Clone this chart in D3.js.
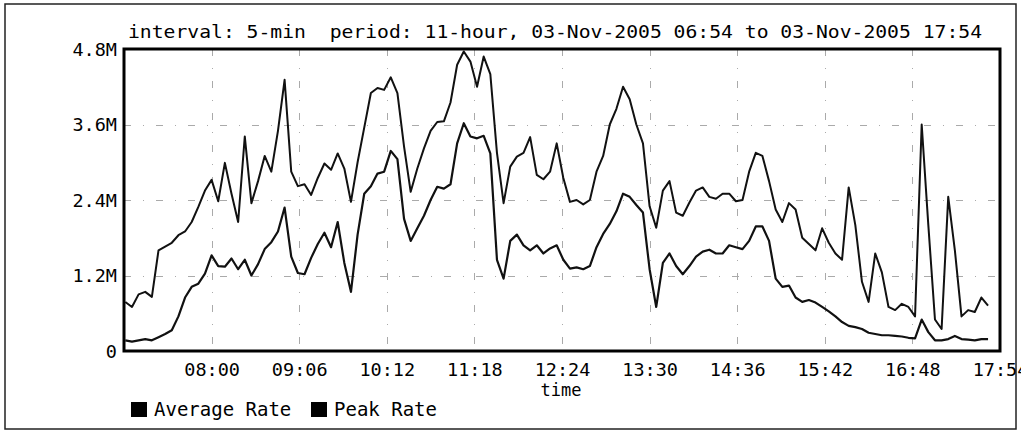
<!DOCTYPE html>
<html>
<head>
<meta charset="utf-8">
<script src="https://cdn.jsdelivr.net/npm/d3@7"></script>
<style>
  body { margin: 0; background: #fff; }
  svg { display: block; }
  text { font-family: 'DejaVu Sans Mono', monospace; fill: #000; white-space: pre; }
</style>
</head>
<body>
<div id="viz"></div>
<script>
// 5-min samples, first one at 06:55, values in Mbit
var title = 'interval: 5-min  period: 11-hour, 03-Nov-2005 06:54 to 03-Nov-2005 17:54',
    periodStart = '03-Nov-2005 06:54',
    periodEnd = '03-Nov-2005 17:54',
    firstSample = '03-Nov-2005 06:55',
    stepMinutes = 5,
    xTickLabels = ['08:00', '09:06', '10:12', '11:18', '12:24', '13:30', '14:36', '15:42', '16:48', '17:54'],
    yTickValues = [0, 1.2, 2.4, 3.6, 4.8],
    yTickLabels = ['0', '1.2M', '2.4M', '3.6M', '4.8M'],
    seriesNames = ['Average Rate', 'Peak Rate'];

var peakRate = [
  0.78, 0.70, 0.90, 0.94, 0.86, 1.60, 1.66, 1.72, 1.84, 1.90,
  2.05, 2.29, 2.55, 2.72, 2.38, 2.99, 2.50, 2.05, 3.41, 2.35,
  2.70, 3.10, 2.85, 3.50, 4.31, 2.85, 2.62, 2.65, 2.48, 2.75,
  2.98, 2.88, 3.14, 2.90, 2.37, 3.00, 3.55, 4.10, 4.18, 4.15,
  4.35, 4.10, 3.25, 2.53, 2.90, 3.22, 3.50, 3.64, 3.65, 3.95,
  4.55, 4.76, 4.60, 4.20, 4.68, 4.40, 3.15, 2.35, 2.93, 3.09,
  3.15, 3.40, 2.80, 2.73, 2.85, 3.30, 2.75, 2.37, 2.40, 2.33,
  2.40, 2.85, 3.10, 3.60, 3.85, 4.20, 4.00, 3.60, 3.30, 2.30,
  1.96, 2.55, 2.70, 2.20, 2.15, 2.36, 2.55, 2.60, 2.45, 2.42,
  2.50, 2.50, 2.38, 2.40, 2.85, 3.15, 3.10, 2.70, 2.25, 2.05,
  2.35, 2.25, 1.80, 1.70, 1.60, 1.95, 1.72, 1.55, 1.45, 2.60,
  2.00, 1.10, 0.78, 1.55, 1.25, 0.70, 0.65, 0.75, 0.70, 0.55,
  3.60, 2.00, 0.50, 0.35, 2.45, 1.60, 0.55, 0.65, 0.62, 0.85,
  0.72
];

var averageRate = [
  0.17, 0.15, 0.17, 0.19, 0.17, 0.22, 0.27, 0.33, 0.55, 0.85,
  1.02, 1.07, 1.23, 1.52, 1.35, 1.34, 1.47, 1.30, 1.45, 1.20,
  1.38, 1.62, 1.73, 1.90, 2.28, 1.50, 1.24, 1.22, 1.48, 1.70,
  1.88, 1.65, 2.05, 1.40, 0.94, 1.85, 2.50, 2.62, 2.82, 2.85,
  3.18, 3.05, 2.10, 1.75, 1.95, 2.15, 2.40, 2.61, 2.58, 2.65,
  3.30, 3.62, 3.41, 3.38, 3.42, 3.14, 1.45, 1.15, 1.75, 1.85,
  1.68, 1.60, 1.68, 1.55, 1.63, 1.68, 1.45, 1.31, 1.33, 1.30,
  1.35, 1.65, 1.86, 2.02, 2.22, 2.50, 2.45, 2.32, 2.20, 1.30,
  0.70, 1.40, 1.55, 1.35, 1.22, 1.35, 1.50, 1.58, 1.61, 1.55,
  1.55, 1.68, 1.65, 1.62, 1.75, 1.98, 1.98, 1.75, 1.15, 1.02,
  1.04, 0.85, 0.78, 0.81, 0.77, 0.70, 0.63, 0.55, 0.46, 0.40,
  0.38, 0.35, 0.29, 0.27, 0.25, 0.25, 0.24, 0.23, 0.21, 0.20,
  0.50, 0.30, 0.17, 0.17, 0.19, 0.24, 0.19, 0.18, 0.17, 0.19,
  0.19
];

var width = 1021,
    height = 432,
    plot = { left: 124, top: 49, right: 1000, bottom: 351 };

var parseFull = d3.timeParse('%d-%b-%Y %H:%M'),
    t0 = parseFull(firstSample),
    xTickDates = xTickLabels.map(function(s) { return parseFull('03-Nov-2005 ' + s); });

function sampleTime(i) {
  return d3.timeMinute.offset(t0, i * stepMinutes);
}

var xScale = d3.scaleTime()
  .domain([parseFull(periodStart), parseFull(periodEnd)])
  .range([plot.left, plot.right]);

var yScale = d3.scaleLinear()
  .domain([0, 4.8])
  .range([plot.bottom, plot.top]);

var svg = d3.select('#viz').append('svg')
  .attr('width', width)
  .attr('height', height);

// outer frame
svg.append('rect')
  .attr('x', 5).attr('y', 4)
  .attr('width', 1011).attr('height', 425)
  .attr('fill', 'none')
  .attr('stroke', '#222')
  .attr('stroke-width', 1.5);

// grid, faint dash-dot
var grid = svg.append('g')
  .attr('stroke', '#aaa')
  .attr('stroke-width', 1)
  .attr('stroke-dasharray', '7,12,1,12');

grid.selectAll('line.v').data(xTickDates.slice(0, -1))
  .enter().append('line')
    .attr('class', 'v')
    .attr('x1', function(d) { return Math.round(xScale(d)) + 0.5; })
    .attr('x2', function(d) { return Math.round(xScale(d)) + 0.5; })
    .attr('y1', plot.top)
    .attr('y2', plot.bottom);

grid.selectAll('line.h').data(yTickValues.slice(1, -1))
  .enter().append('line')
    .attr('class', 'h')
    .attr('x1', plot.left)
    .attr('x2', plot.right)
    .attr('y1', function(d) { return Math.round(yScale(d)) + 0.5; })
    .attr('y2', function(d) { return Math.round(yScale(d)) + 0.5; });

// series
var line = d3.line()
  .x(function(d, i) { return xScale(sampleTime(i)); })
  .y(function(d) { return yScale(d); });

svg.append('path')
  .datum(averageRate)
  .attr('fill', 'none')
  .attr('stroke', '#111')
  .attr('stroke-width', 2.2)
  .attr('stroke-linejoin', 'round')
  .attr('d', line);

svg.append('path')
  .datum(peakRate)
  .attr('fill', 'none')
  .attr('stroke', '#111')
  .attr('stroke-width', 2)
  .attr('stroke-linejoin', 'round')
  .attr('d', line);

// plot frame
svg.append('rect')
  .attr('x', plot.left).attr('y', plot.top)
  .attr('width', plot.right - plot.left)
  .attr('height', plot.bottom - plot.top)
  .attr('fill', 'none')
  .attr('stroke', '#000')
  .attr('stroke-width', 3);

// axes
var xAxis = d3.axisBottom(xScale)
  .tickValues(xTickDates)
  .tickFormat(function(d, i) { return xTickLabels[i]; })
  .tickSize(0)
  .tickPadding(0);

var yAxis = d3.axisLeft(yScale)
  .tickValues(yTickValues)
  .tickFormat(function(d, i) { return yTickLabels[i]; })
  .tickSize(0)
  .tickPadding(0);

var xGuide = svg.append('g')
  .attr('transform', 'translate(0,' + plot.bottom + ')')
  .call(xAxis);
xGuide.select('.domain').remove();
xGuide.selectAll('text')
  .attr('y', 25)
  .attr('dy', 0)
  .style('font-family', "'DejaVu Sans Mono', monospace")
  .style('font-size', '18.5px')
  .attr('fill', '#000');

var yGuide = svg.append('g')
  .attr('transform', 'translate(117,0)')
  .call(yAxis);
yGuide.select('.domain').remove();
yGuide.selectAll('text')
  .attr('x', 0)
  .attr('dy', '0.35em')
  .style('font-family', "'DejaVu Sans Mono', monospace")
  .style('font-size', '18.5px')
  .attr('fill', '#000');

// title and axis name
svg.append('text')
  .attr('x', 128)
  .attr('y', 38)
  .attr('textLength', 854)
  .attr('lengthAdjust', 'spacingAndGlyphs')
  .style('font-size', '18.5px')
  .text(title);

svg.append('text')
  .attr('x', 561)
  .attr('y', 396)
  .attr('text-anchor', 'middle')
  .style('font-size', '17px')
  .text('time');

// legend
var legend = svg.append('g')
  .selectAll('g').data(seriesNames)
  .enter().append('g')
    .attr('transform', function(d, i) { return 'translate(' + [131, 311][i] + ',402)'; });

legend.append('rect')
  .attr('width', 16)
  .attr('height', 15)
  .attr('fill', '#000');

legend.append('text')
  .attr('x', 23)
  .attr('y', 14)
  .style('font-size', '19px')
  .text(function(d) { return d; });
</script>
</body>
</html>
